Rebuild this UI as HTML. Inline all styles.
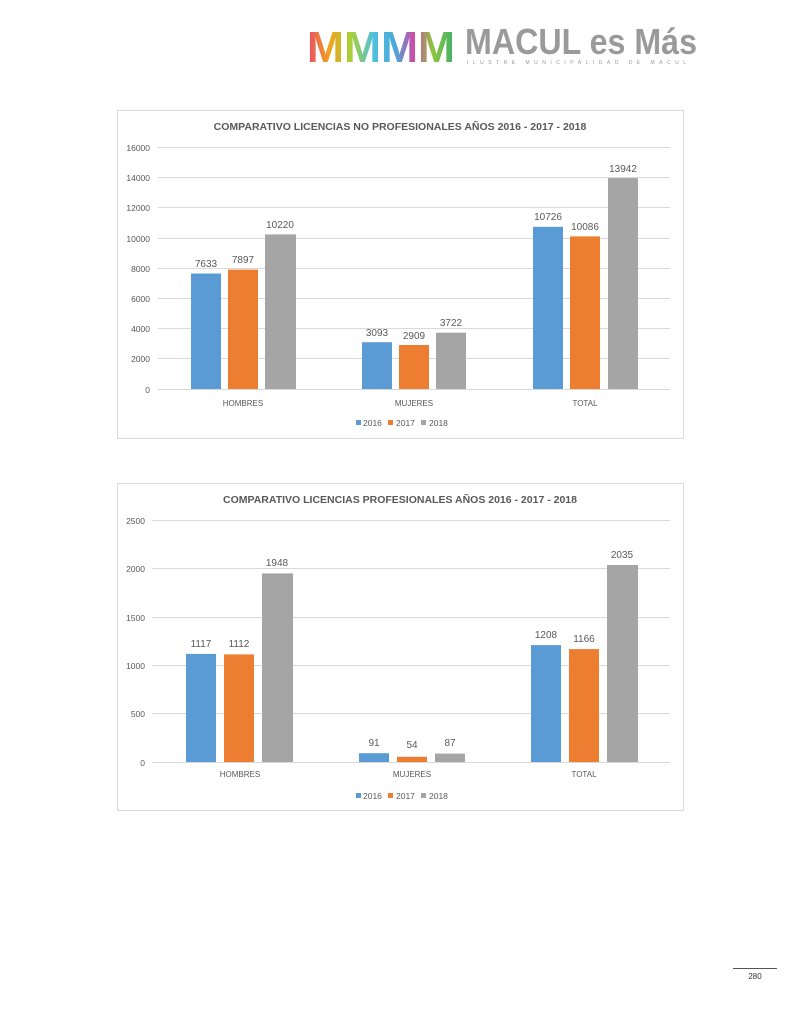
<!DOCTYPE html>
<html><head><meta charset="utf-8"><style>
html,body{margin:0;padding:0;background:#fff;}
svg{display:block;font-family:"Liberation Sans",sans-serif;}
</style></head><body>
<svg width="802" height="1024" viewBox="0 0 802 1024" xmlns="http://www.w3.org/2000/svg">
<defs><linearGradient id="lg" x1="0" x2="1"><stop offset="0" stop-color="#e94a6a"/><stop offset="0.15" stop-color="#f2a21d"/><stop offset="0.3" stop-color="#a7d03a"/><stop offset="0.45" stop-color="#4fc0e0"/><stop offset="0.6" stop-color="#4aa8d8"/><stop offset="0.72" stop-color="#d04aa8"/><stop offset="0.85" stop-color="#8dc63f"/><stop offset="1" stop-color="#3fb06a"/></linearGradient></defs>
<text x="307" y="62" font-size="44" font-weight="bold" fill="url(#lg)" textLength="148" lengthAdjust="spacingAndGlyphs">MMMM</text>
<text x="465" y="54" font-size="36" font-weight="bold" fill="#9a9a9a" textLength="232" lengthAdjust="spacingAndGlyphs">MACUL es Más</text>
<text x="467" y="64" font-size="5" fill="#9a9a9a" letter-spacing="4.5">ILUSTRE MUNICIPALIDAD DE MACUL</text>

<g font-size="9" fill="#595959">
<rect x="117.5" y="110.5" width="566" height="328" fill="#fff" stroke="#d9d9d9"/>
<text x="400" y="130" font-size="10.5" font-weight="bold" text-anchor="middle">COMPARATIVO LICENCIAS NO PROFESIONALES AÑOS 2016 - 2017 - 2018</text>
<g stroke="#d9d9d9" stroke-width="1">
<line x1="158" x2="670" y1="147.5" y2="147.5"/><line x1="158" x2="670" y1="177.5" y2="177.5"/><line x1="158" x2="670" y1="207.5" y2="207.5"/><line x1="158" x2="670" y1="238.5" y2="238.5"/><line x1="158" x2="670" y1="268.5" y2="268.5"/><line x1="158" x2="670" y1="298.5" y2="298.5"/><line x1="158" x2="670" y1="328.5" y2="328.5"/><line x1="158" x2="670" y1="358.5" y2="358.5"/><line x1="158" x2="670" y1="389.5" y2="389.5"/></g>
<g text-anchor="end" font-size="8.5"><text x="150" y="151">16000</text><text x="150" y="181">14000</text><text x="150" y="211">12000</text><text x="150" y="242">10000</text><text x="150" y="272">8000</text><text x="150" y="302">6000</text><text x="150" y="332">4000</text><text x="150" y="362">2000</text><text x="150" y="393">0</text></g>
<rect x="191" y="273.5" width="30" height="115.5" fill="#5b9bd5"/><rect x="228" y="269.6" width="30" height="119.4" fill="#ed7d31"/><rect x="265" y="234.4" width="31" height="154.6" fill="#a5a5a5"/>
<rect x="362" y="342.2" width="30" height="46.8" fill="#5b9bd5"/><rect x="399" y="345" width="30" height="44" fill="#ed7d31"/><rect x="436" y="332.7" width="30" height="56.3" fill="#a5a5a5"/>
<rect x="533" y="226.8" width="30" height="162.2" fill="#5b9bd5"/><rect x="570" y="236.4" width="30" height="152.6" fill="#ed7d31"/><rect x="608" y="178.1" width="30" height="210.9" fill="#a5a5a5"/>
<g text-anchor="middle" font-size="10"><text x="206" y="267">7633</text><text x="243" y="263">7897</text><text x="280" y="228">10220</text><text x="377" y="336">3093</text><text x="414" y="339">2909</text><text x="451" y="326">3722</text><text x="548" y="220">10726</text><text x="585" y="230">10086</text><text x="623" y="172">13942</text></g>
<g text-anchor="middle" font-size="8"><text x="243" y="406">HOMBRES</text><text x="414" y="406">MUJERES</text><text x="585" y="406">TOTAL</text></g>
<rect x="356" y="420" width="5" height="5" fill="#5b9bd5"/><text x="363" y="426" font-size="8.5">2016</text>
<rect x="388" y="420" width="5" height="5" fill="#ed7d31"/><text x="396" y="426" font-size="8.5">2017</text>
<rect x="421" y="420" width="5" height="5" fill="#a5a5a5"/><text x="429" y="426" font-size="8.5">2018</text>
</g>

<g font-size="9" fill="#595959">
<rect x="117.5" y="483.5" width="566" height="327" fill="#fff" stroke="#d9d9d9"/>
<text x="400" y="503" font-size="10.5" font-weight="bold" text-anchor="middle">COMPARATIVO LICENCIAS PROFESIONALES AÑOS 2016 - 2017 - 2018</text>
<g stroke="#d9d9d9"><line x1="152" x2="670" y1="520.5" y2="520.5"/><line x1="152" x2="670" y1="568.5" y2="568.5"/><line x1="152" x2="670" y1="617.5" y2="617.5"/><line x1="152" x2="670" y1="665.5" y2="665.5"/><line x1="152" x2="670" y1="713.5" y2="713.5"/><line x1="152" x2="670" y1="762.5" y2="762.5"/></g>
<g text-anchor="end" font-size="8.5"><text x="145" y="524">2500</text><text x="145" y="572">2000</text><text x="145" y="621">1500</text><text x="145" y="669">1000</text><text x="145" y="717">500</text><text x="145" y="766">0</text></g>
<rect x="186" y="653.9" width="30" height="108.1" fill="#5b9bd5"/><rect x="224" y="654.4" width="30" height="107.6" fill="#ed7d31"/><rect x="262" y="573.4" width="31" height="188.6" fill="#a5a5a5"/>
<rect x="359" y="753.2" width="30" height="8.8" fill="#5b9bd5"/><rect x="397" y="756.8" width="30" height="5.2" fill="#ed7d31"/><rect x="435" y="753.6" width="30" height="8.4" fill="#a5a5a5"/>
<rect x="531" y="645.1" width="30" height="116.9" fill="#5b9bd5"/><rect x="569" y="649.1" width="30" height="112.9" fill="#ed7d31"/><rect x="607" y="565" width="31" height="197" fill="#a5a5a5"/>
<g text-anchor="middle" font-size="10"><text x="201" y="647">1117</text><text x="239" y="647">1112</text><text x="277" y="566">1948</text><text x="374" y="746">91</text><text x="412" y="748">54</text><text x="450" y="746">87</text><text x="546" y="638">1208</text><text x="584" y="642">1166</text><text x="622" y="558">2035</text></g>
<g text-anchor="middle" font-size="8"><text x="240" y="777">HOMBRES</text><text x="412" y="777">MUJERES</text><text x="584" y="777">TOTAL</text></g>
<rect x="356" y="793" width="5" height="5" fill="#5b9bd5"/><text x="363" y="799" font-size="8.5">2016</text>
<rect x="388" y="793" width="5" height="5" fill="#ed7d31"/><text x="396" y="799" font-size="8.5">2017</text>
<rect x="421" y="793" width="5" height="5" fill="#a5a5a5"/><text x="429" y="799" font-size="8.5">2018</text>
</g>
<line x1="733" x2="777" y1="968.5" y2="968.5" stroke="#555"/>
<text x="755" y="979" font-size="8" text-anchor="middle" fill="#333">280</text>
</svg>
</body></html>
